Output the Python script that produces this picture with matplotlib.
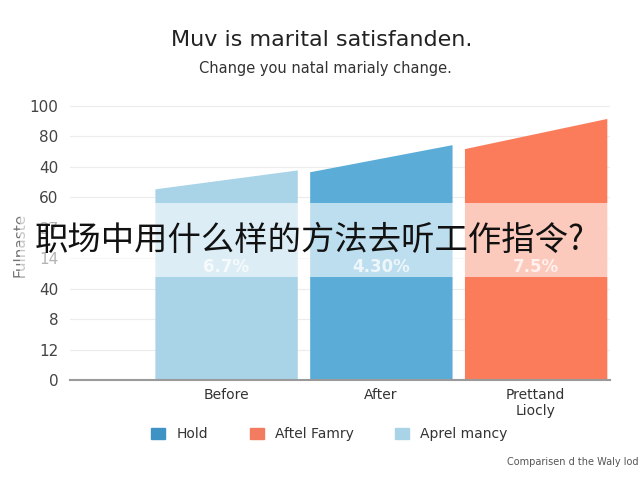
import matplotlib.pyplot as plt
import matplotlib.patches as mpatches
import numpy as np

# data (y in tick steps, one step per tick label)
categories = ['Before', 'After', 'Prettand\nLiocly']
start_vals = [6.28, 6.84, 7.60]
end_vals = [6.90, 7.73, 8.59]
value_labels = ['6.7%', '4.30%', '7.5%']
bar_colors = ['#a9d3e7', '#5badd8', '#fa7c5a']
ytick_labels = ['0', '12', '8', '40', '14', '27', '60', '40', '80', '100']
legend_names = ['Hold', 'Aftel Famry', 'Aprel mancy']
legend_colors = ['#3f92c4', '#f37b60', '#a9d3e7']

fig = plt.figure(figsize=(6.4, 4.8), dpi=100)
ax = fig.add_axes([0.109, 0.208, 0.844, 0.603])

width = 0.92
x = np.arange(len(categories))
for i in range(len(categories)):
    ax.fill_between([x[i] - width / 2, x[i] + width / 2],
                    [start_vals[i], end_vals[i]],
                    color=bar_colors[i], linewidth=0, zorder=2)
    ax.text(x[i], 3.71, value_labels[i], ha='center', va='center',
            color='white', fontsize=12, fontweight='bold', alpha=0.75, zorder=3)

ax.set_xlim(-1.01, 2.48)
ax.set_ylim(0, 9.5)
ax.set_yticks(range(len(ytick_labels)))
ax.set_yticklabels(ytick_labels, fontsize=11, color='#444444')
ax.set_xticks(x)
ax.set_xticklabels(categories, fontsize=10, color='#333333', linespacing=1.1)
ax.tick_params(axis='y', length=0, pad=8)
ax.tick_params(axis='x', length=0, pad=6)
ax.grid(axis='y', color='#ececec', linewidth=0.8, zorder=0)
for s in ['top', 'right', 'left']:
    ax.spines[s].set_visible(False)
ax.spines['bottom'].set_color('#9a9a9a')
ax.spines['bottom'].set_linewidth(1.5)

fig.text(0.031, 0.49, 'Fulnaste', rotation=90, ha='center', va='center',
         fontsize=11, color='#777777')

fig.text(0.503, 0.917, 'Muv is marital satisfanden.', ha='center', va='center',
         fontsize=16, color='#222222')
fig.text(0.508, 0.858, 'Change you natal marialy change.', ha='center', va='center',
         fontsize=10.5, color='#333333')

handles = [mpatches.Patch(color=c, label=n) for n, c in zip(legend_names, legend_colors)]
fig.legend(handles=handles, loc='center', bbox_to_anchor=(0.515, 0.095), ncol=3,
           frameon=False, fontsize=10, handlelength=1.0, handleheight=0.9,
           columnspacing=3.0, labelcolor='#333333')

fig.text(0.997, 0.037, 'Comparisen d the Waly lod', ha='right', va='center',
         fontsize=7, color='#555555')

# translucent banner with the question across the chart
fig.patches.append(mpatches.Rectangle((0.031, 0.423), 0.922, 0.154,
                                      transform=fig.transFigure, facecolor='white',
                                      alpha=0.6, edgecolor='none', zorder=5))
fig.text(0.484, 0.5, '职场中用什么样的方法去听工作指令?', ha='center', va='center',
         fontsize=24, color='#111111', zorder=6,
         family=['Noto Sans CJK SC', 'DejaVu Sans'])

fig.savefig('out.png', dpi=100)
